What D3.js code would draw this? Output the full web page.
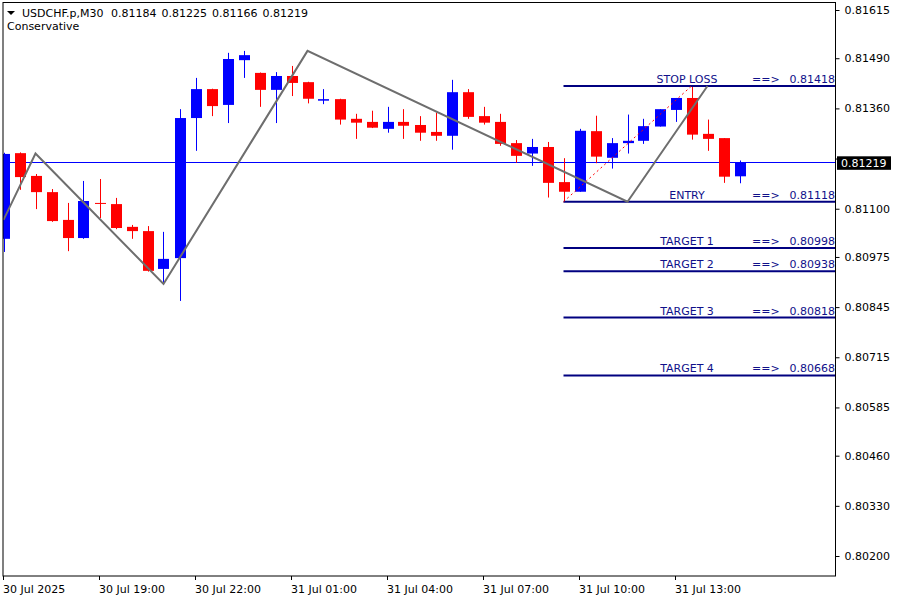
<!DOCTYPE html>
<html>
<head>
<meta charset="utf-8">
<script src="https://cdn.jsdelivr.net/npm/d3@7/dist/d3.min.js"></script>
<style>
  html, body { margin: 0; padding: 0; background: #fff; }
  svg { display: block; }
  text { font-family: "DejaVu Sans", sans-serif; }
</style>
</head>
<body>
<svg id="chart" width="900" height="600"></svg>
<script>
// ---------- DATA ----------
const symbolTitle = "USDCHF.p,M30";
const subTitle = "Conservative";
const opens  = [0.81022,0.81244,0.81185,0.81143,0.81071,0.81024,0.81115,0.81112,0.81053,0.81042,
                0.80944,0.80972,0.81335,0.81410,0.81369,0.81485,0.81452,0.81408,0.81444,0.81428,
                0.81380,0.81384,0.81333,0.81325,0.81307,0.81325,0.81317,0.81299,0.81289,0.81402,
                0.81340,0.81325,0.81270,0.81243,0.81260,0.81169,0.81144,0.81301,0.81232,0.81270,
                0.81276,0.81313,0.81356,0.81387,0.81294,0.81283,0.81184];
const highs  = [0.81245,0.81246,0.81190,0.81151,0.81115,0.81172,0.81177,0.81128,0.81058,0.81055,
                0.81040,0.81358,0.81439,0.81411,0.81504,0.81509,0.81453,0.81454,0.81470,0.81429,
                0.81410,0.81385,0.81346,0.81354,0.81364,0.81358,0.81340,0.81349,0.81434,0.81410,
                0.81364,0.81346,0.81278,0.81281,0.81273,0.81231,0.81307,0.81341,0.81283,0.81344,
                0.81333,0.81358,0.81387,0.81418,0.81331,0.81283,0.81225];
const lows   = [0.80988,0.81149,0.81099,0.81066,0.80990,0.81022,0.81076,0.81047,0.81022,0.80937,
                0.80908,0.80861,0.81250,0.81340,0.81322,0.81439,0.81364,0.81322,0.81392,0.81373,
                0.81371,0.81318,0.81281,0.81309,0.81297,0.81281,0.81276,0.81276,0.81253,0.81333,
                0.81318,0.81263,0.81219,0.81211,0.81129,0.81118,0.81144,0.81218,0.81204,0.81243,
                0.81268,0.81313,0.81325,0.81279,0.81250,0.81167,0.81166];
const closes = [0.81242,0.81182,0.81143,0.81068,0.81024,0.81120,0.81114,0.81050,0.81042,0.80939,
                0.80970,0.81335,0.81410,0.81366,0.81488,0.81498,0.81408,0.81444,0.81426,0.81385,
                0.81384,0.81331,0.81323,0.81310,0.81325,0.81315,0.81297,0.81289,0.81402,0.81338,
                0.81323,0.81268,0.81237,0.81260,0.81167,0.81144,0.81302,0.81235,0.81270,0.81276,
                0.81314,0.81358,0.81387,0.81292,0.81281,0.81183,0.81219];

const timeTickIndex  = [0, 6, 12, 18, 24, 30, 36, 42];
const timeTickLabels = ["30 Jul 2025","30 Jul 19:00","30 Jul 22:00","31 Jul 01:00",
                        "31 Jul 04:00","31 Jul 07:00","31 Jul 10:00","31 Jul 13:00"];
const priceTicks = [0.81615,0.81490,0.81360,0.81230,0.81100,0.80975,0.80845,0.80715,
                    0.80585,0.80460,0.80330,0.80200];
const hiddenTick = 0.81230; // label covered by the current-price box

const zigzagIndex  = [0, 2, 10, 19, 39, 44];
const zigzagPrice  = [0.81071, 0.81243, 0.80905, 0.81509, 0.81118, 0.81418];

const levelNames  = ["STOP LOSS","ENTRY","TARGET 1","TARGET 2","TARGET 3","TARGET 4"];
const levelValues = [0.81418, 0.81118, 0.80998, 0.80938, 0.80818, 0.80668];
const levelStartIndex = 35;

const trendFrom = [35, 0.81118];
const trendTo   = [43, 0.81418];

const currentPrice = closes[closes.length - 1];

// ---------- LAYOUT ----------
const L = 3, R = 835.5, T = 2.5, B = 576;
const svg = d3.select("#chart");

const x = d3.scaleLinear().domain([0, 46]).range([3.5, 739.5]);
const y = d3.scaleLinear().domain([0.80200, 0.81615]).range([556, 10]);

svg.append("rect").attr("width", 900).attr("height", 600).attr("fill", "#fff");

svg.append("defs").append("clipPath").attr("id", "plot")
  .append("rect").attr("x", L).attr("y", T).attr("width", R - L).attr("height", B - T);

const plot = svg.append("g").attr("clip-path", "url(#plot)");

// current price line
const cpY = Math.round(y(currentPrice)) - 0.5;
plot.append("line")
  .attr("x1", L).attr("x2", R)
  .attr("y1", cpY).attr("y2", cpY)
  .attr("stroke", "#0000ff").attr("stroke-width", 1)
  .attr("shape-rendering", "crispEdges");

// candles
const candles = opens.map((o, i) => ({ i, o, h: highs[i], l: lows[i], c: closes[i] }));
const bw = 11;
const cg = plot.append("g");
candles.forEach(d => {
  const col = d.c >= d.o ? "#0000ff" : "#ff0000";
  const cx = Math.round(x(d.i)) + 0.5;
  cg.append("line").attr("x1", cx).attr("x2", cx)
    .attr("y1", y(d.h)).attr("y2", y(d.l)).attr("stroke", col).attr("stroke-width", 1);
  const top = y(Math.max(d.o, d.c)), bot = y(Math.min(d.o, d.c));
  cg.append("rect").attr("x", cx - bw / 2).attr("width", bw)
    .attr("y", top).attr("height", Math.max(1, bot - top)).attr("fill", col);
});

// level lines
const lg = plot.append("g");
levelValues.forEach((v, k) => {
  const yy = y(v);
  lg.append("line").attr("x1", x(levelStartIndex)).attr("x2", R)
    .attr("y1", yy).attr("y2", yy).attr("stroke", "#000080").attr("stroke-width", 2);
});

// red dashed trend line
plot.append("line")
  .attr("x1", x(trendFrom[0])).attr("y1", y(trendFrom[1]))
  .attr("x2", x(trendTo[0])).attr("y2", y(trendTo[1]))
  .attr("stroke", "#ff0000").attr("stroke-width", 1).attr("stroke-dasharray", "2,3");

// zigzag
const zz = zigzagIndex.map((ix, k) => [x(ix), y(zigzagPrice[k])]);
plot.append("path").attr("d", d3.line()(zz))
  .attr("fill", "none").attr("stroke", "#6e6e6e").attr("stroke-width", 2);

// level labels
levelValues.forEach((v, k) => {
  const yy = y(v) - 3;
  const g = svg.append("g").attr("fill", "#10108a").style("font-size", "11px");
  g.append("text").attr("x", 687).attr("y", yy).attr("text-anchor", "middle").text(levelNames[k]);
  g.append("text").attr("x", 752).attr("y", yy).text("==>");
  g.append("text").attr("x", 835).attr("y", yy).attr("text-anchor", "end").text(d3.format(".5f")(v));
});

// frame
svg.append("rect").attr("x", L).attr("y", T).attr("width", R - L).attr("height", B - T)
  .attr("fill", "none").attr("stroke", "#000").attr("stroke-width", 1);

// right axis
const yAxis = d3.axisRight(y).tickValues(priceTicks).tickSize(4).tickPadding(5)
  .tickFormat(d => d === hiddenTick ? "" : d3.format(".5f")(d));
const ya = svg.append("g").attr("transform", `translate(${R},0)`).call(yAxis);
ya.select(".domain").remove();
ya.selectAll("text").style("font-family", "DejaVu Sans").style("font-size", "11px").attr("fill", "#000");
ya.selectAll("line").attr("stroke", "#000");

// bottom axis
const xAxis = d3.axisBottom(x).tickValues(timeTickIndex).tickSize(4).tickPadding(5)
  .tickFormat((d, k) => timeTickLabels[k]);
const xa = svg.append("g").attr("transform", `translate(0,${B})`).call(xAxis);
xa.select(".domain").remove();
xa.selectAll(".tick line").attr("transform", "translate(-0.5,0)");
xa.selectAll("text").style("font-family", "DejaVu Sans").style("font-size", "11px")
  .attr("fill", "#000").attr("text-anchor", "start").attr("x", -1);
xa.selectAll("line").attr("stroke", "#000");

// current price box
const cy = y(currentPrice);
svg.append("rect").attr("x", 837).attr("y", cy - 6.5).attr("width", 54).attr("height", 13.5).attr("fill", "#000");
svg.append("text").attr("x", 841).attr("y", cy + 4).attr("fill", "#fff")
  .style("font-size", "11px").text(d3.format(".5f")(currentPrice));

// title
svg.append("path").attr("d", "M7,11 L15,11 L11,15 Z").attr("fill", "#000");
svg.append("text").attr("x", 22).attr("y", 17).style("font-size", "11px").attr("fill", "#000").text(symbolTitle);
const last = candles[candles.length - 1];
[last.o, last.h, last.l, last.c].forEach((v, k) => {
  svg.append("text").attr("x", 111 + k * 50.5).attr("y", 17).style("font-size", "11px")
    .attr("fill", "#000").text(d3.format(".5f")(v));
});
svg.append("text").attr("x", 7).attr("y", 30).style("font-size", "11px").attr("fill", "#000").text(subTitle);
</script>
</body>
</html>
